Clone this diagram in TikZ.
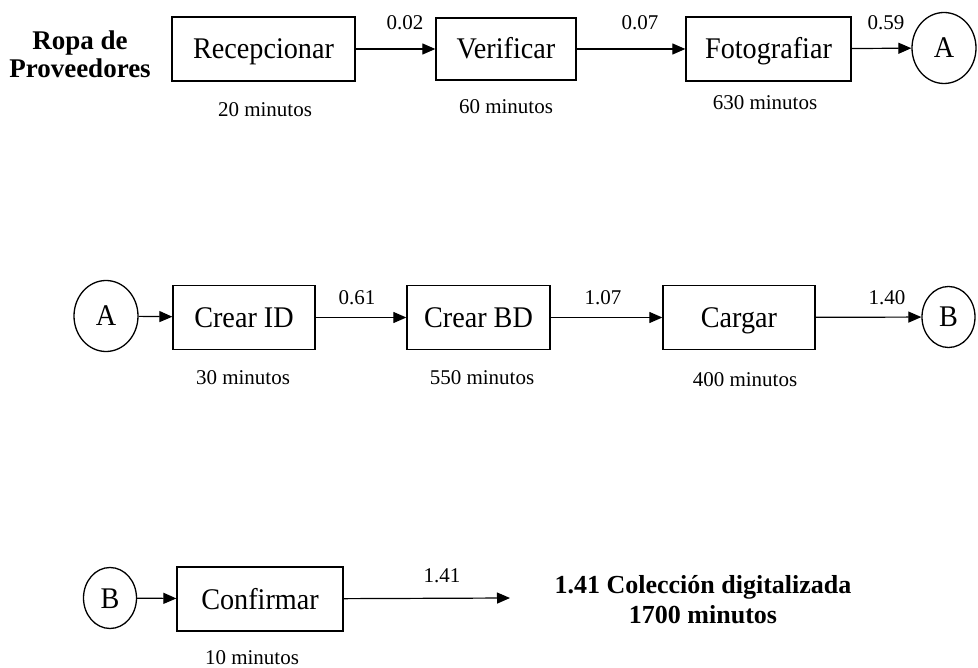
\documentclass[tikz,border=0pt]{standalone}
\usepackage{fontspec}
\setmainfont{Liberation Serif}
\newfontfamily\labelfont{Liberation Serif}[FakeStretch=0.94]
\usetikzlibrary{arrows.meta,shapes.geometric}

\begin{document}
\begin{tikzpicture}[x=1pt,y=-1pt,
  proc/.style={draw,line width=1.3pt,inner sep=0pt,minimum height=64pt,
    text height=20pt,text depth=0pt,
    font=\labelfont\fontsize{30}{34}\selectfont},
  conn/.style={draw,ellipse,line width=1.3pt,inner sep=0pt,
    text height=20pt,text depth=0pt,
    font=\labelfont\fontsize{30}{34}\selectfont},
  bigconn/.style={conn,minimum width=64pt,minimum height=71pt},
  smallconn/.style={conn,minimum width=53pt,minimum height=61pt},
  flow/.style={-{Triangle[length=13pt,width=11pt]},line width=1.2pt},
  val/.style={font=\fontsize{21}{24}\selectfont,inner sep=0pt,
    text height=14pt,text depth=0pt},
  dur/.style={font=\fontsize{21}{24}\selectfont,inner sep=0pt,
    text height=14pt,text depth=0pt},
  title/.style={align=center,inner sep=0pt}]
\useasboundingbox (0,0) rectangle (978,668);

% first line of the process
\node[title,font=\bfseries\fontsize{27}{28}\selectfont] (src) at (80,54) {Ropa de\\Proveedores};
\node[proc,minimum width=183pt] (rec) at (263.5,49) {Recepcionar};
\node[proc,minimum width=140pt,minimum height=62pt] (ver) at (506,49) {Verificar};
\node[proc,minimum width=165pt] (fot) at (768.5,49) {Fotografiar};
\node[bigconn] (a1) at (944,48) {A};

\draw[flow] (rec) -- (ver);
\draw[flow] (ver) -- (fot);
\draw[flow] (fot) -- (a1);

\node[val] (v1) at (405,23) {0.02};
\node[val] (v2) at (640,23) {0.07};
\node[val] (v3) at (886,23) {0.59};

\node[dur] (d1) at (265,110) {20 minutos};
\node[dur] (d2) at (506,107) {60 minutos};
\node[dur] (d3) at (765,103) {630 minutos};

% second line
\node[bigconn] (a2) at (106,316) {A};
\node[proc,minimum width=142pt] (cid) at (244,317.5) {Crear ID};
\node[proc,minimum width=143pt] (cbd) at (478.5,317.5) {Crear BD};
\node[proc,minimum width=152pt] (car) at (739,317.5) {Cargar};
\node[smallconn] (b1) at (948.5,317) {B};

\draw[flow] (a2) -- (cid);
\draw[flow] (cid) -- (cbd);
\draw[flow] (cbd) -- (car);
\draw[flow] (car) -- (b1);

\node[val] (v4) at (357,298) {0.61};
\node[val] (v5) at (603,298) {1.07};
\node[val] (v6) at (887,298) {1.40};

\node[dur] (d4) at (243,378) {30 minutos};
\node[dur] (d5) at (482,378) {550 minutos};
\node[dur] (d6) at (745,380) {400 minutos};

% third line
\node[smallconn] (b2) at (110,598) {B};
\node[proc,minimum width=166pt] (con) at (260,599) {Confirmar};
\coordinate (fin) at (510,598);

\draw[flow] (b2) -- (con);
\draw[flow] (con) -- (fin);

\node[val] (v7) at (442,575) {1.41};
\node[dur] (d7) at (252,657) {10 minutos};

\node[title,font=\bfseries\fontsize{26}{30}\selectfont] (res) at (703,600)
  {1.41 Colección digitalizada\\1700 minutos};
\end{tikzpicture}
\end{document}
